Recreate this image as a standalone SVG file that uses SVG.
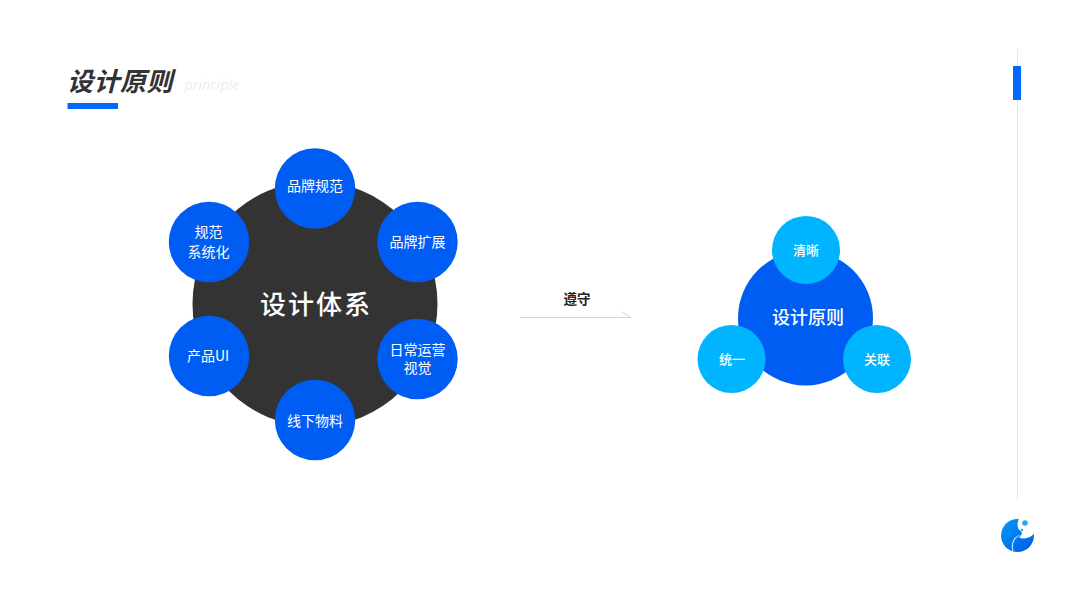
<svg xmlns="http://www.w3.org/2000/svg" width="1080" height="608" viewBox="0 0 1080 608">
<defs>
<linearGradient id="logoG" x1="0" y1="0" x2="1" y2="1"><stop offset="0" stop-color="#009cf8"/><stop offset="1" stop-color="#0058e8"/></linearGradient>
</defs>
<style>
text{font-family:"Noto Sans CJK SC","Noto Sans",sans-serif;text-anchor:middle}
.b{fill:#005df4}.c{fill:#00b4ff}
.l{fill:#fff;font-size:14px}
.m{fill:#fff;font-size:13px;font-weight:500}
</style>
<rect width="1080" height="608" fill="#fff"/>
<g id="header">
<text x="120" y="91" font-size="26" font-weight="700" fill="#333" font-style="italic" letter-spacing="0.5">设计原则</text>
<text x="212" y="90" font-size="14" fill="#e6e8ec" font-style="italic" letter-spacing="0.3" style="font-family:'Noto Sans',sans-serif;font-weight:300">principle</text>
<rect x="67.500" y="103" width="50.500" height="6" fill="#0069fa"/>
</g>
<g id="scrollbar">
<rect x="1017" y="49" width="1" height="451" fill="#e8e8e8"/>
<rect x="1013" y="66" width="8" height="34" fill="#0069fa"/>
</g>
<g id="logo">
<circle cx="1017.500" cy="535.500" r="16.500" fill="url(#logoG)"/>
<path d="M1020 517H1036V530.500C1033 537 1026 540 1019 537.500C1022 535 1023 532 1020 530.500C1017 528 1016.500 523 1020 517Z" fill="#fff"/>
<path d="M1013 551C1011 544 1014 537 1019.500 535.500" fill="none" stroke="#fff" stroke-width="1.200" opacity=".75"/>
<circle cx="1025" cy="523" r="2.800" fill="#2aa8f5"/>
<circle cx="1022" cy="530" r="1.300" fill="#2aa8f5"/>
</g>
<g id="connectors">
<path d="M520 317.500H631L621 311.500" fill="none" stroke="#c9c9c9" stroke-width="0.800"/>
</g>
<g id="edge-label"><text x="577" y="304" font-size="13.500" font-weight="700" fill="#222">遵守</text></g>
<g id="core"><circle cx="315" cy="304" r="122.500" fill="#333"/><text x="316" y="314" font-size="26" font-weight="500" fill="#fff" letter-spacing="2">设计体系</text></g>
<g id="n1"><circle class="b" cx="315" cy="188.500" r="40.200"/><text class="l" x="315" y="191">品牌规范</text></g>
<g id="n2"><circle class="b" cx="417.500" cy="242" r="40.200"/><text class="l" x="417.500" y="246.500">品牌扩展</text></g>
<g id="n3"><circle class="b" cx="417.500" cy="359" r="40.200"/><text class="l" x="417.500" y="355">日常运营<tspan x="417.500" dy="17.500">视觉</tspan></text></g>
<g id="n4"><circle class="b" cx="315" cy="420" r="40.200"/><text class="l" x="315" y="425.500">线下物料</text></g>
<g id="n5"><circle class="b" cx="209" cy="356" r="40.200"/><text class="l" x="208" y="361">产品UI</text></g>
<g id="n6"><circle class="b" cx="209" cy="242" r="40.200"/><text class="l" x="208.500" y="236.500">规范<tspan x="208.500" dy="20">系统化</tspan></text></g>
<g id="principles"><circle class="b" cx="805.500" cy="318" r="67.500"/><text x="808" y="324" font-size="18" font-weight="500" fill="#fff">设计原则</text></g>
<g id="p1"><circle class="c" cx="806" cy="250" r="34"/><text class="m" x="806" y="255">清晰</text></g>
<g id="p2"><circle class="c" cx="731.500" cy="359" r="34"/><text class="m" x="732" y="363.500">统一</text></g>
<g id="p3"><circle class="c" cx="877" cy="359" r="34"/><text class="m" x="877" y="363.500">关联</text></g>
</svg>
